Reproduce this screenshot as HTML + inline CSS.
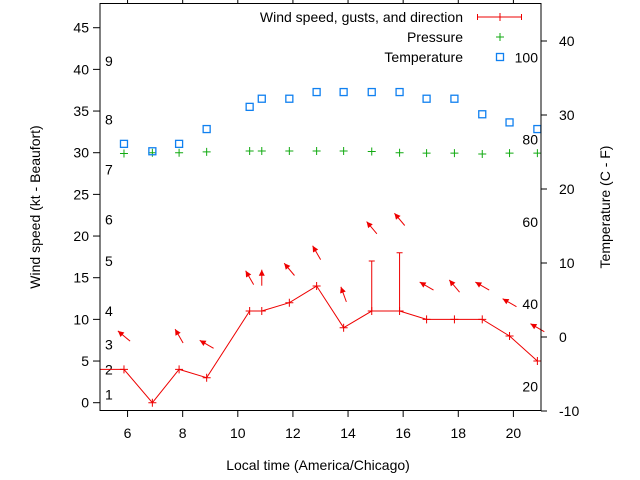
<!DOCTYPE html>
<html><head><meta charset="utf-8"><style>
html,body{margin:0;padding:0;background:#fff}
svg{display:block;font-family:"Liberation Sans",sans-serif}
</style></head><body>
<svg id="chart" width="640" height="480" viewBox="0 0 640 480" xmlns="http://www.w3.org/2000/svg">
<rect x="0" y="0" width="640" height="480" fill="#fff"/>
<g id="marks"></g>
<rect x="100" y="3.5" width="441" height="407" fill="none" stroke="#000" stroke-width="1"/>
<text transform="translate(40,207) rotate(-90)" text-anchor="middle" font-size="14">Wind speed (kt - Beaufort)</text>
<text transform="translate(610,207) rotate(-90)" text-anchor="middle" font-size="14">Temperature (C - F)</text>
<text x="318" y="470" text-anchor="middle" font-size="14">Local time (America/Chicago)</text>
<g font-size="14">
<text x="463" y="22" text-anchor="end">Wind speed, gusts, and direction</text>
<line x1="477" y1="17" x2="522" y2="17" stroke="#e00" stroke-width="1"/>
<line x1="477.5" y1="14" x2="477.5" y2="20" stroke="#e00"/><line x1="521.5" y1="14" x2="521.5" y2="20" stroke="#e00"/><line x1="500" y1="13" x2="500" y2="21" stroke="#e00"/>
<text x="463" y="42" text-anchor="end">Pressure</text>
<path d="M496 37h8M500 33v8" stroke="#1a1" stroke-width="1"/>
<text x="463" y="62" text-anchor="end">Temperature</text>
<rect x="496.5" y="53.5" width="7" height="7" fill="none" stroke="#1080f0" stroke-width="1.3"/>
</g>
</svg>
<script>
const hours = [5.87,6.9,7.87,8.87,10.43,10.87,11.87,12.86,13.84,14.86,15.87,16.85,17.86,18.87,19.86,20.87];
const windKt = [4,0,4,3,11,11,12,14,9,11,11,10,10,10,8,5];
const gustKt = [null,null,null,null,null,null,null,null,null,17,18,null,null,null,null,null];
const windFromDeg = [130,null,150,120,150,180,140,150,160,140,140,120,140,120,120,120];
const pressureInHg = [29.9,30.0,30.0,30.1,30.2,30.2,30.2,30.2,30.2,30.15,30.0,29.95,29.95,29.85,29.95,29.95];
const tempC = [26.1,25.1,26.1,28.1,31.1,32.2,32.2,33.1,33.1,33.1,33.1,32.2,32.2,30.1,29.0,28.1];
const xTicks = [6,8,10,12,14,16,18,20];
const yTicks = [0,5,10,15,20,25,30,35,40,45];
const y2Ticks = [-10,0,10,20,30,40];
const beaufort = [1,4,7,11,17,22,28,34,41];
const fahrenheit = [20,40,60,80,100];

const X = h => 100 + (h - 5) * 27.56;
const Y = v => 402.7 - v * 8.333;
const Y2 = c => 337 - c * 7.4;
const NS = "http://www.w3.org/2000/svg";
const g = document.getElementById('marks');
function el(tag, attrs, parent) {
  const e = document.createElementNS(NS, tag);
  for (const k in attrs) e.setAttribute(k, attrs[k]);
  (parent || g).appendChild(e);
  return e;
}
xTicks.forEach(t => {
  const x = X(t);
  el('line', {x1:x,y1:411,x2:x,y2:417,stroke:'#000'});
  el('line', {x1:x,y1:3,x2:x,y2:-3,stroke:'#000'});
  const tx = el('text', {x:x,y:438,'text-anchor':'middle','font-size':14});
  tx.textContent = t;
  
  
});
yTicks.forEach(t => {
  const y = Y(t);
  el('line', {x1:93,y1:y,x2:100,y2:y,stroke:'#000'});
  const tx = el('text', {x:89,y:y+5,'text-anchor':'end','font-size':14});
  tx.textContent = t;
  
  
});
y2Ticks.forEach(t => {
  const y = Y2(t);
  el('line', {x1:541,y1:y,x2:547,y2:y,stroke:'#000'});
  const tx = el('text', {x:559,y:y+5,'text-anchor':'start','font-size':14});
  tx.textContent = t;
  
  
});
beaufort.forEach((b, i) => {
  const tx = el('text', {x:105,y:Y(b)+5,'font-size':14});
  tx.textContent = i + 1;
  
  
});
fahrenheit.forEach(f => {
  const tx = el('text', {x:538,y:Y2((f-32)*5/9)+5,'text-anchor':'end','font-size':14});
  tx.textContent = f;
  
  
});
pressureInHg.forEach((p, i) => {
  const x = X(hours[i]), y = Y(p);
  const m = el('path', {d:`M${x-4} ${y}h8M${x} ${y-4}v8`,stroke:'#1a1','stroke-width':1});
  
  
});
tempC.forEach((c, i) => {
  const x = X(hours[i]), y = Y2(c);
  const m = el('rect', {x:x-3.5,y:y-3.5,width:7,height:7,fill:'none',stroke:'#1080f0','stroke-width':1.3});
  
  
});
let d = `M100 ${Y(windKt[0])}`;
hours.forEach((h, i) => { d += `L${X(h)} ${Y(windKt[i])}`; });
const wl = el('path', {d:d,fill:'none',stroke:'#e00','stroke-width':1});


hours.forEach((h, i) => {
  const x = X(h), y = Y(windKt[i]);
  const m = el('path', {d:`M${x-4} ${y}h8M${x} ${y-4}v8`,stroke:'#e00','stroke-width':1});
  
  
  if (gustKt[i] != null) {
    const gy = Y(gustKt[i]);
    const gb = el('path', {d:`M${x} ${y}V${gy}M${x-3} ${gy}h6`,stroke:'#e00','stroke-width':1,fill:'none'});
    
    
  }
  if (windFromDeg[i] != null) {
    const top = gustKt[i] != null ? gustKt[i] : windKt[i];
    const b = (windFromDeg[i] + 180) * Math.PI / 180;
    const ux = Math.sin(b), uy = -Math.cos(b);
    const cx = x, cy = Y(top + 4), L = 8;
    const hx = cx + ux * L, hy = cy + uy * L, tx = cx - ux * L, ty = cy - uy * L;
    const px = -uy, py = ux;
    const a = el('g', {});
    
    
    el('line', {x1:tx,y1:ty,x2:hx,y2:hy,stroke:'#e00','stroke-width':1}, a);
    const bx = hx - ux * 6, by = hy - uy * 6;
    el('path', {d:`M${hx} ${hy}L${bx+px*3} ${by+py*3}L${bx-px*3} ${by-py*3}Z`,fill:'#e00'}, a);
  }
});
</script>
</body></html>
